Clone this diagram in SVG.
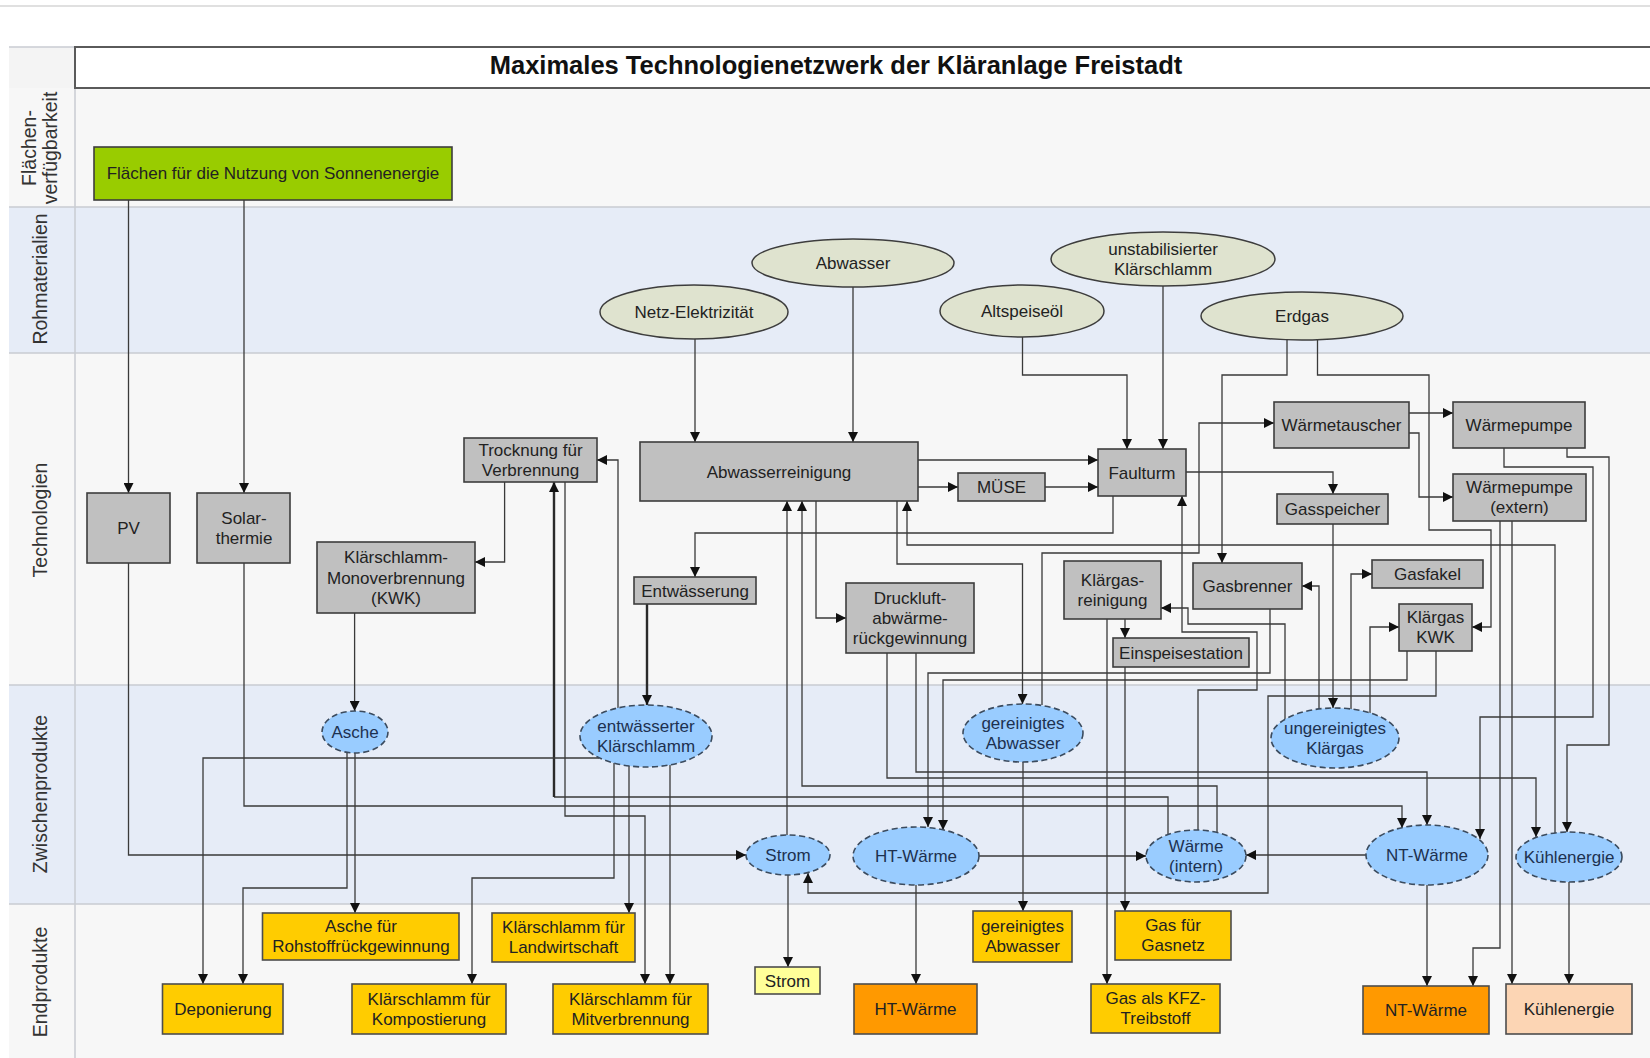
<svg xmlns="http://www.w3.org/2000/svg" width="1650" height="1058" viewBox="0 0 1650 1058">
  <defs>
    <marker id="arr" viewBox="0 0 10 10" refX="10" refY="5" markerWidth="12" markerHeight="10" orient="auto" markerUnits="userSpaceOnUse">
      <path d="M0,0 L10,5 L0,10 z" fill="#111"/>
    </marker>
    <style>
      text { font-family: "Liberation Sans", Arial, sans-serif; font-size: 17px; fill: #222; text-anchor: middle; }
      .lane-g { fill: #f7f7f7; }
      .lane-b { fill: #e6ecf7; }
      .sep { stroke: #c9ccd2; stroke-width: 1.5; fill: none; }
      .lbl { font-size: 19.5px; fill: #333; }
      .title { font-size: 25.5px; font-weight: bold; fill: #111; }
      .tech { fill: #c0c0c0; stroke: #3d3d3d; stroke-width: 1.6; }
      .raw { fill: #dfe3cf; stroke: #3d3d3d; stroke-width: 1.5; }
      .mid { fill: #99ccff; stroke: #3b4b5e; stroke-width: 1.6; stroke-dasharray: 6 3.5; }
      .mid-t { fill: #1d3150; }
      .end { fill: #ffcc00; stroke: #4d4d4d; stroke-width: 1.6; }
      .end-o { fill: #ff9900; stroke: #4d4d4d; stroke-width: 1.6; }
      .end-y { fill: #ffff99; stroke: #4d4d4d; stroke-width: 1.6; }
      .end-p { fill: #fcd5b4; stroke: #4d4d4d; stroke-width: 1.6; }
      .sun { fill: #99cc00; stroke: #3d3d3d; stroke-width: 1.6; }
      .c { fill: none; stroke: #3a3a3a; stroke-width: 1.3; marker-end: url(#arr); }
      .c0 { fill: none; stroke: #3a3a3a; stroke-width: 1.3; }
      .ct { fill: none; stroke: #2a2a2a; stroke-width: 2.4; marker-end: url(#arr); }
    </style>
  </defs>

  <!-- page background and swimlanes -->
  <rect x="0" y="0" width="1650" height="1058" fill="#ffffff"/>
  <line x1="0" y1="6" x2="1650" y2="6" stroke="#d6d6d6" stroke-width="1.5"/>
  <g id="lanes">
    <rect x="9" y="47" width="66" height="41" fill="#f4f4f4"/>
    <rect x="9" y="88" width="1641" height="119" class="lane-g"/>
    <rect x="9" y="207" width="1641" height="146" class="lane-b"/>
    <rect x="9" y="353" width="1641" height="332" class="lane-g"/>
    <rect x="9" y="685" width="1641" height="219" class="lane-b"/>
    <rect x="9" y="904" width="1641" height="154" class="lane-g"/>
    <path class="sep" d="M9,47 H75 M9,207 H1650 M9,353 H1650 M9,685 H1650 M9,904 H1650 M75,88 V1058"/>
    <rect x="75" y="47" width="1580" height="41" fill="#ffffff" stroke="#5a5a5a" stroke-width="2"/>
    <text class="title" x="836" y="74">Maximales Technologienetzwerk der Kläranlage Freistadt</text>
    <text class="lbl" x="29" y="155" transform="rotate(-90 29 148)">Flächen-</text>
    <text class="lbl" x="50" y="155" transform="rotate(-90 50 148)">verfügbarkeit</text>
    <text class="lbl" x="40" y="286" transform="rotate(-90 40 279)">Rohmaterialien</text>
    <text class="lbl" x="40" y="527" transform="rotate(-90 40 520)">Technologien</text>
    <text class="lbl" x="40" y="801" transform="rotate(-90 40 794)">Zwischenprodukte</text>
    <text class="lbl" x="40" y="989" transform="rotate(-90 40 982)">Endprodukte</text>
  </g>

  <!-- connectors -->
  <g id="connectors">
    <path class="c" d="M128.5,200 V493"/>
    <path class="c" d="M244,200 V493"/>
    <path class="c" d="M695,339 V442"/>
    <path class="c" d="M853,287 V442"/>
    <path class="c" d="M1022.5,337 V375 H1127 V449"/>
    <path class="c" d="M1163,286 V449"/>
    <path class="c" d="M1287,340 V375 H1222 V563"/>
    <path class="c" d="M1317.5,340 V375 H1429 V530 H1491 V627 H1472"/>
    <path class="c" d="M504.6,482 V562 H475"/>
    <path class="c" d="M354.6,613 V711"/>
    <path class="c" d="M918,460 H1098"/>
    <path class="c" d="M918,487 H958"/>
    <path class="c" d="M1045,487 H1098"/>
    <path class="c" d="M1113,496 V533 H695 V577"/>
    <path class="c" d="M816,501 V618 H846"/>
    <path class="c" d="M897,501 V564 H1022.5 V704"/>
    <path class="c" d="M787,835 V501"/>
    <path class="c" d="M1217,832 V786 H802 V501"/>
    <path class="c" d="M1555,833 V545 H907 V501"/>
    <path class="c" d="M1042,705 V553 H1199 V423 H1274"/>
    <path class="c" d="M1409,413 H1453"/>
    <path class="c" d="M1409,433 H1419 V497 H1453"/>
    <path class="c" d="M1504,448 V467 H1593 V717 H1480 V839"/>
    <path class="c" d="M1567,448 V457 H1609 V745 H1567 V832"/>
    <path class="c" d="M1500,521 V948 H1473 V986"/>
    <path class="c" d="M1512,521 V984"/>
    <path class="c" d="M1186,472 H1333 V494"/>
    <path class="c" d="M1333,524 V708"/>
    <path class="c" d="M1319,709 V586 H1302"/>
    <path class="c" d="M1351,710 V574 H1372"/>
    <path class="c" d="M1370,713 V627 H1399"/>
    <path class="c" d="M1285,719 V624 H1188 V608 H1161"/>
    <path class="c" d="M1198,830 V690 H1257 V632 H1182 V496"/>
    <path class="c" d="M1125,619 V638"/>
    <path class="c" d="M1107,619 V984"/>
    <path class="c" d="M1125,667 V911"/>
    <path class="c" d="M916,653 V772 H1427 V825"/>
    <path class="c" d="M887,653 V778 H1536 V837"/>
    <path class="c" d="M1270,609 V673 H928 V827"/>
    <path class="c" d="M1407,651 V680 H943 V830"/>
    <path class="c" d="M1436,651 V696 H1268 V893 H808 V873"/>
    <path class="c" d="M979,856 H1146"/>
    <path class="c" d="M1366,855 H1246"/>
    <path class="c" d="M916,885 V984"/>
    <path class="c" d="M1427,885 V986"/>
    <path class="c" d="M1569,882 V984"/>
    <path class="c" d="M788,875 V967"/>
    <path class="c" d="M1023,762 V911"/>
    <path class="c" d="M128.5,563 V855 H746"/>
    <path class="c" d="M244,563 V806 H1402 V828"/>
    <!-- internal heat to the dryer: thin run, heavy riser -->
    <path class="c0" d="M1168,834 V797 H554"/>
    <path class="ct" d="M554,797 V482"/>
    <path class="c" d="M565,482 V816 H645 V984"/>
    <path class="c" d="M618,708 V460 H597"/>
    <path class="ct" d="M647,604 V705"/>
    <path class="c" d="M599,758 H203 V984"/>
    <path class="c" d="M614,763 V878 H472 V984"/>
    <path class="c" d="M629,766 V913"/>
    <path class="c" d="M670,765 V984"/>
    <path class="c" d="M355,753 V913"/>
    <path class="c" d="M347,752 V888 H243 V984"/>
  </g>

  <!-- area availability -->
  <g id="flaechen">
    <rect class="sun" x="94" y="147" width="358" height="53"/>
    <text x="273" y="179">Flächen für die Nutzung von Sonnenenergie</text>
  </g>

  <!-- raw materials -->
  <g id="netz-elektrizitaet">
    <ellipse class="raw" cx="694" cy="312" rx="94" ry="27"/>
    <text x="694" y="318">Netz-Elektrizität</text>
  </g>
  <g id="abwasser">
    <ellipse class="raw" cx="853" cy="263" rx="101" ry="24"/>
    <text x="853" y="269">Abwasser</text>
  </g>
  <g id="altspeiseoel">
    <ellipse class="raw" cx="1022" cy="311" rx="82" ry="26"/>
    <text x="1022" y="317">Altspeiseöl</text>
  </g>
  <g id="unstab-klaerschlamm">
    <ellipse class="raw" cx="1163" cy="259" rx="112" ry="27"/>
    <text x="1163" y="254.5">unstabilisierter</text>
    <text x="1163" y="274.5">Klärschlamm</text>
  </g>
  <g id="erdgas">
    <ellipse class="raw" cx="1302" cy="316" rx="101" ry="24"/>
    <text x="1302" y="322">Erdgas</text>
  </g>

  <!-- technologies -->
  <g id="pv">
    <rect class="tech" x="87" y="493" width="83" height="70"/>
    <text x="128.5" y="534">PV</text>
  </g>
  <g id="solarthermie">
    <rect class="tech" x="197" y="493" width="93" height="70"/>
    <text x="244" y="524">Solar-</text>
    <text x="244" y="544">thermie</text>
  </g>
  <g id="trocknung">
    <rect class="tech" x="464" y="438" width="133" height="44"/>
    <text x="530.5" y="455.5">Trocknung für</text>
    <text x="530.5" y="475.5">Verbrennung</text>
  </g>
  <g id="monoverbrennung">
    <rect class="tech" x="317" y="542" width="158" height="71"/>
    <text x="396" y="563">Klärschlamm-</text>
    <text x="396" y="584">Monoverbrennung</text>
    <text x="396" y="604">(KWK)</text>
  </g>
  <g id="abwasserreinigung">
    <rect class="tech" x="640" y="442" width="278" height="59"/>
    <text x="779" y="477.5">Abwasserreinigung</text>
  </g>
  <g id="muese">
    <rect class="tech" x="958" y="473" width="87" height="28"/>
    <text x="1001.5" y="493">MÜSE</text>
  </g>
  <g id="faulturm">
    <rect class="tech" x="1098" y="449" width="88" height="47"/>
    <text x="1142" y="478.5">Faulturm</text>
  </g>
  <g id="waermetauscher">
    <rect class="tech" x="1274" y="402" width="135" height="46"/>
    <text x="1341.5" y="431">Wärmetauscher</text>
  </g>
  <g id="waermepumpe">
    <rect class="tech" x="1453" y="402" width="132" height="46"/>
    <text x="1519" y="431">Wärmepumpe</text>
  </g>
  <g id="waermepumpe-extern">
    <rect class="tech" x="1453" y="474" width="133" height="47"/>
    <text x="1519.5" y="493">Wärmepumpe</text>
    <text x="1519.5" y="513">(extern)</text>
  </g>
  <g id="gasspeicher">
    <rect class="tech" x="1277" y="494" width="111" height="30"/>
    <text x="1332.5" y="515">Gasspeicher</text>
  </g>
  <g id="gasbrenner">
    <rect class="tech" x="1193" y="563" width="109" height="46"/>
    <text x="1247.5" y="592">Gasbrenner</text>
  </g>
  <g id="gasfakel">
    <rect class="tech" x="1372" y="560" width="111" height="28"/>
    <text x="1427.5" y="580">Gasfakel</text>
  </g>
  <g id="klaergas-kwk">
    <rect class="tech" x="1399" y="604" width="73" height="47"/>
    <text x="1435.5" y="623">Klärgas</text>
    <text x="1435.5" y="643">KWK</text>
  </g>
  <g id="klaergasreinigung">
    <rect class="tech" x="1064" y="561" width="97" height="58"/>
    <text x="1112.5" y="585.5">Klärgas-</text>
    <text x="1112.5" y="605.5">reinigung</text>
  </g>
  <g id="einspeisestation">
    <rect class="tech" x="1113" y="638" width="136" height="29"/>
    <text x="1181" y="658.5">Einspeisestation</text>
  </g>
  <g id="entwaesserung">
    <rect class="tech" x="634" y="577" width="122" height="27"/>
    <text x="695" y="596.5">Entwässerung</text>
  </g>
  <g id="druckluft">
    <rect class="tech" x="846" y="583" width="128" height="70"/>
    <text x="910" y="604">Druckluft-</text>
    <text x="910" y="624">abwärme-</text>
    <text x="910" y="644">rückgewinnung</text>
  </g>

  <!-- intermediate products -->
  <g id="asche">
    <ellipse class="mid" cx="355" cy="732" rx="33" ry="21"/>
    <text class="mid-t" x="355" y="738">Asche</text>
  </g>
  <g id="entw-klaerschlamm">
    <ellipse class="mid" cx="646" cy="736" rx="66" ry="31"/>
    <text class="mid-t" x="646" y="731.5">entwässerter</text>
    <text class="mid-t" x="646" y="751.5">Klärschlamm</text>
  </g>
  <g id="ger-abwasser">
    <ellipse class="mid" cx="1023" cy="733" rx="60" ry="29"/>
    <text class="mid-t" x="1023" y="728.5">gereinigtes</text>
    <text class="mid-t" x="1023" y="748.5">Abwasser</text>
  </g>
  <g id="ungereinigtes-klaergas">
    <ellipse class="mid" cx="1335" cy="738" rx="64" ry="30"/>
    <text class="mid-t" x="1335" y="733.5">ungereinigtes</text>
    <text class="mid-t" x="1335" y="753.5">Klärgas</text>
  </g>
  <g id="strom">
    <ellipse class="mid" cx="788" cy="855" rx="42" ry="20"/>
    <text class="mid-t" x="788" y="861">Strom</text>
  </g>
  <g id="ht-waerme">
    <ellipse class="mid" cx="916" cy="856" rx="63" ry="29"/>
    <text class="mid-t" x="916" y="862">HT-Wärme</text>
  </g>
  <g id="waerme-intern">
    <ellipse class="mid" cx="1196" cy="856" rx="50" ry="26"/>
    <text class="mid-t" x="1196" y="851.5">Wärme</text>
    <text class="mid-t" x="1196" y="871.5">(intern)</text>
  </g>
  <g id="nt-waerme">
    <ellipse class="mid" cx="1427" cy="855" rx="61" ry="30"/>
    <text class="mid-t" x="1427" y="861">NT-Wärme</text>
  </g>
  <g id="kuehlenergie">
    <ellipse class="mid" cx="1569" cy="857" rx="53" ry="25"/>
    <text class="mid-t" x="1569" y="863">Kühlenergie</text>
  </g>

  <!-- end products -->
  <g id="asche-rohstoff">
    <rect class="end" x="262.5" y="913" width="196.5" height="47"/>
    <text x="361" y="932">Asche für</text>
    <text x="361" y="952">Rohstoffrückgewinnung</text>
  </g>
  <g id="ks-landwirtschaft">
    <rect class="end" x="492" y="913" width="143" height="49"/>
    <text x="563.5" y="933">Klärschlamm für</text>
    <text x="563.5" y="953">Landwirtschaft</text>
  </g>
  <g id="deponierung">
    <rect class="end" x="162.5" y="984" width="120.5" height="50"/>
    <text x="223" y="1015">Deponierung</text>
  </g>
  <g id="ks-kompostierung">
    <rect class="end" x="352" y="984" width="154" height="50"/>
    <text x="429" y="1004.5">Klärschlamm für</text>
    <text x="429" y="1024.5">Kompostierung</text>
  </g>
  <g id="ks-mitverbrennung">
    <rect class="end" x="553" y="984" width="155" height="50"/>
    <text x="630.5" y="1004.5">Klärschlamm für</text>
    <text x="630.5" y="1024.5">Mitverbrennung</text>
  </g>
  <g id="strom-end">
    <rect class="end-y" x="755" y="967" width="65" height="27"/>
    <text x="787.5" y="986.5">Strom</text>
  </g>
  <g id="ht-waerme-end">
    <rect class="end-o" x="854" y="984" width="123" height="50"/>
    <text x="915.5" y="1015">HT-Wärme</text>
  </g>
  <g id="ger-abwasser-end">
    <rect class="end" x="973" y="911" width="99" height="51"/>
    <text x="1022.5" y="932">gereinigtes</text>
    <text x="1022.5" y="952">Abwasser</text>
  </g>
  <g id="gas-gasnetz">
    <rect class="end" x="1115" y="911" width="116" height="49"/>
    <text x="1173" y="931">Gas für</text>
    <text x="1173" y="951">Gasnetz</text>
  </g>
  <g id="gas-kfz">
    <rect class="end" x="1091" y="984" width="129" height="49"/>
    <text x="1155.5" y="1004">Gas als KFZ-</text>
    <text x="1155.5" y="1024">Treibstoff</text>
  </g>
  <g id="nt-waerme-end">
    <rect class="end-o" x="1363" y="986" width="126" height="48"/>
    <text x="1426" y="1016">NT-Wärme</text>
  </g>
  <g id="kuehlenergie-end">
    <rect class="end-p" x="1506" y="984" width="126" height="50"/>
    <text x="1569" y="1015">Kühlenergie</text>
  </g>
</svg>
